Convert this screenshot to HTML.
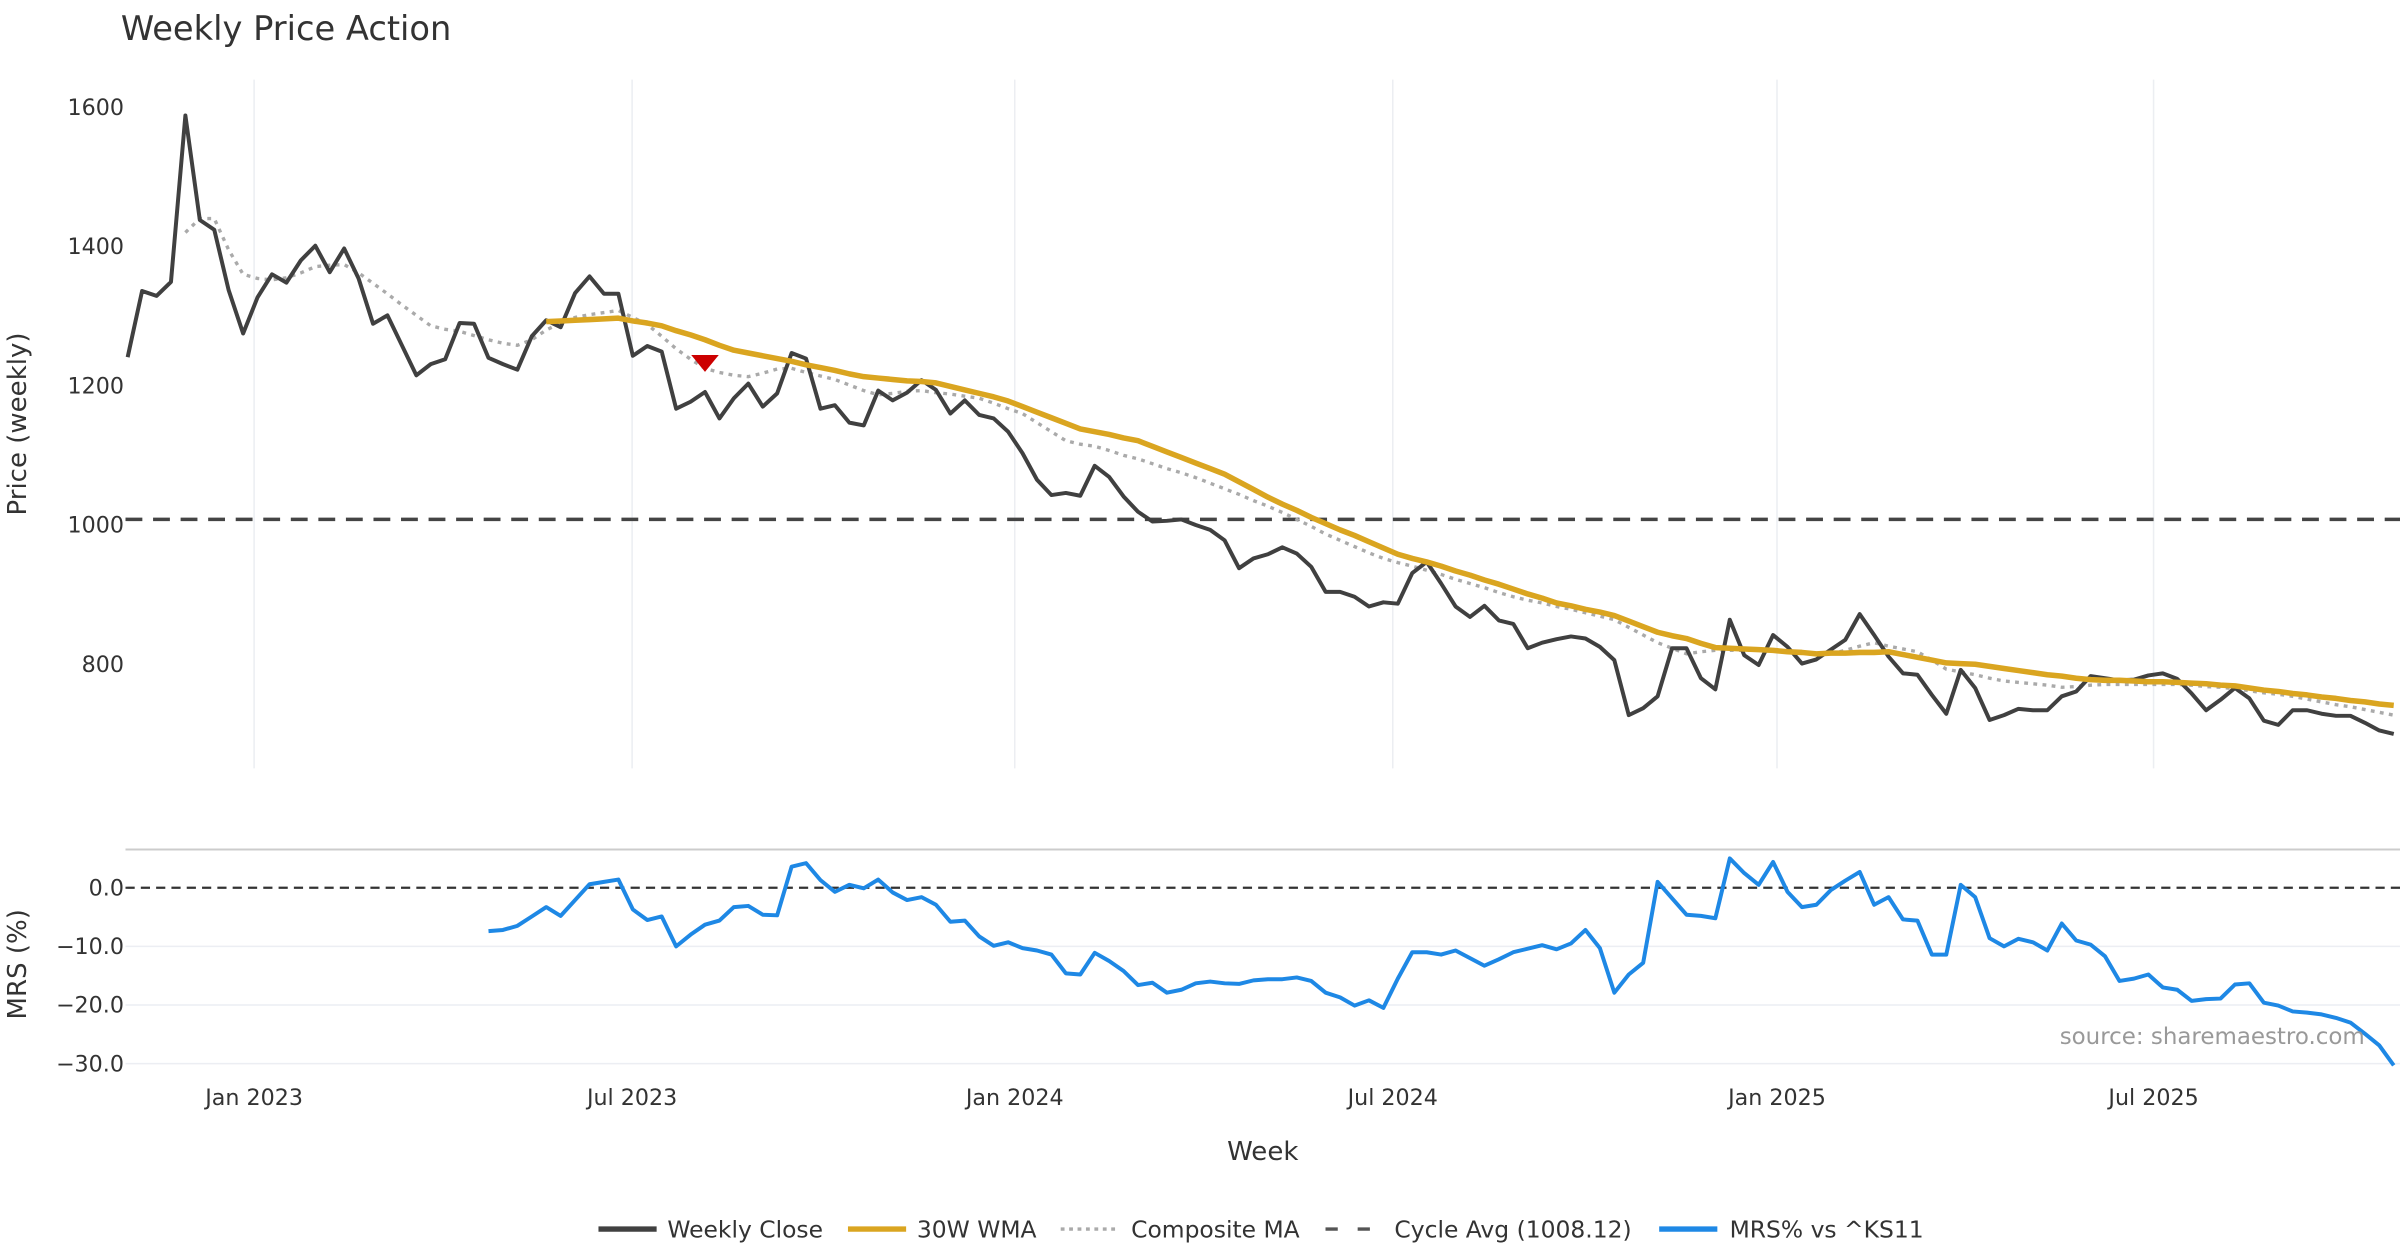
<!DOCTYPE html>
<html><head><meta charset="utf-8"><title>Weekly Price Action</title>
<style>
html,body{margin:0;padding:0;background:#fff;}
svg{display:block;font-family:"DejaVu Sans","Liberation Sans",sans-serif;}
</style></head>
<body>
<svg id="chart" width="2400" height="1260" viewBox="0 0 1568 823.2" xmlns="http://www.w3.org/2000/svg">
  <rect x="0" y="0" width="1568" height="823.2" fill="#fff"/>
  <text x="79" y="26" font-size="22" fill="#333">Weekly Price Action</text>
  <g id="grid"></g>
  <g id="series"></g>
  <g id="axes"></g>
  <text transform="translate(17,277) rotate(-90)" text-anchor="middle" font-size="17" fill="#333">Price (weekly)</text>
  <text transform="translate(17,630) rotate(-90)" text-anchor="middle" font-size="17" fill="#333">MRS (%)</text>
  <text x="825" y="758" text-anchor="middle" font-size="17" fill="#333">Week</text>
  <text x="1545" y="682" text-anchor="end" font-size="15" fill="#999">source: sharemaestro.com</text>
  <g>
    <g>
      <line x1="391" y1="803" x2="429" y2="803" stroke="#404040" stroke-width="3.5"/>
      <text x="436" y="808.5" font-size="15.3" fill="#333">Weekly Close</text>
    </g>
    <g>
      <line x1="554" y1="803" x2="592" y2="803" stroke="#DAA520" stroke-width="3.5"/>
      <text x="599" y="808.5" font-size="15.3" fill="#333">30W WMA</text>
    </g>
    <g>
      <line x1="693" y1="803" x2="731" y2="803" stroke="#aaa" stroke-width="2.2" stroke-dasharray="2.5,3"/>
      <text x="739" y="808.5" font-size="15.3" fill="#333">Composite MA</text>
    </g>
    <g>
      <line x1="866" y1="803" x2="904" y2="803" stroke="#555" stroke-width="2.2" stroke-dasharray="8,13"/>
      <text x="911" y="808.5" font-size="15.3" fill="#333">Cycle Avg (1008.12)</text>
    </g>
    <g>
      <line x1="1084" y1="803" x2="1122" y2="803" stroke="#1E88E5" stroke-width="3.5"/>
      <text x="1130" y="808.5" font-size="15.3" fill="#333">MRS% vs ^KS11</text>
    </g>
  </g>
</svg>
<script>
const closeVals = [1241,1336,1329,1349,1588,1438,1424,1337,1275,1327,1360,1348,1380,1401,1363,1397,1354,1289,1301,1258,1215,1231,1238,1290,1289,1240,1231,1223,1271,1294,1284,1333,1357,1332,1332,1243,1257,1249,1167,1177,1191,1153,1182,1203,1170,1189,1247,1239,1167,1172,1147,1143,1193,1179,1190,1208,1194,1160,1179,1158,1153,1134,1103,1065,1043,1046,1042,1085,1069,1041,1019,1005,1006,1008,1000,993,978,938,952,958,968,959,940,904,904,897,883,889,887,931,947,916,883,868,884,863,858,823,831,836,840,837,825,806,727,737,754,823,823,780,764,864,813,799,842,825,801,807,821,835,872,842,811,787,785,756,729,792,766,720,727,736,734,734,754,761,783,780,777,778,784,787,779,758,734,749,766,751,719,713,734,734,729,726,726,716,705,700];
const wmaStart = 29;
const wmaVals = [1292,1293,1294,1295,1296,1297,1293,1290,1286,1279,1273,1266,1258,1251,1247,1243,1239,1235,1230,1226,1222,1217,1213,1211,1209,1207,1206,1204,1199,1194,1189,1184,1178,1170,1162,1154,1146,1138,1134,1130,1125,1121,1113,1105,1097,1089,1081,1073,1062,1051,1040,1030,1021,1011,1002,993,985,976,967,958,952,947,941,934,928,921,915,908,901,895,888,884,879,875,870,862,854,846,841,837,830,824,823,822,821,820,818,817,815,816,816,817,817,818,814,810,806,802,801,800,797,794,791,788,785,783,780,778,777,777,776,775,775,774,773,772,770,769,766,763,761,758,756,753,751,748,746,743,741];
const compStart = 4;
const compVals = [1420,1440,1440,1395,1360,1354,1352,1355,1362,1371,1373,1374,1362,1347,1332,1316,1301,1286,1281,1278,1272,1266,1261,1258,1266,1280,1290,1298,1302,1305,1308,1298,1288,1271,1253,1238,1225,1219,1215,1213,1218,1224,1225,1219,1214,1209,1201,1193,1187,1189,1192,1193,1190,1188,1185,1182,1175,1167,1160,1147,1134,1121,1116,1113,1107,1100,1095,1088,1081,1075,1068,1060,1052,1044,1035,1027,1018,1008,998,987,978,969,960,952,946,941,935,929,922,916,910,903,897,892,888,883,879,874,869,864,853,842,831,823,815,818,820,820,820,820,820,819,818,816,815,820,826,831,826,822,818,806,793,789,785,780,776,774,772,770,767,768,770,771,771,771,771,771,771,770,768,767,765,762,759,757,754,750,746,742,739,735,731,727];
const mrsStart = 25;
const mrsVals = [-7.4,-7.2,-6.5,-4.9,-3.3,-4.8,-2.1,0.6,1.0,1.4,-3.7,-5.5,-4.9,-10.0,-8.0,-6.3,-5.6,-3.3,-3.1,-4.6,-4.7,3.6,4.2,1.3,-0.7,0.5,-0.1,1.4,-0.8,-2.1,-1.6,-2.9,-5.8,-5.6,-8.3,-9.9,-9.3,-10.3,-10.7,-11.4,-14.6,-14.8,-11.1,-12.5,-14.2,-16.6,-16.2,-17.9,-17.4,-16.3,-16.0,-16.3,-16.4,-15.8,-15.6,-15.6,-15.3,-15.9,-17.9,-18.7,-20.1,-19.2,-20.5,-15.5,-11.0,-11.0,-11.4,-10.7,-12.0,-13.3,-12.2,-11.0,-10.4,-9.8,-10.5,-9.5,-7.2,-10.3,-17.9,-14.8,-12.8,1.0,-1.8,-4.6,-4.8,-5.2,5.0,2.5,0.5,4.4,-0.7,-3.3,-2.9,-0.4,1.2,2.7,-2.9,-1.6,-5.4,-5.6,-11.4,-11.4,0.5,-1.6,-8.6,-10.0,-8.7,-9.3,-10.7,-6.1,-9.0,-9.7,-11.7,-15.9,-15.5,-14.8,-17.0,-17.4,-19.3,-19.0,-18.9,-16.5,-16.3,-19.6,-20.1,-21.1,-21.3,-21.6,-22.2,-23.0,-24.9,-26.9,-30.3];
const cycleAvg = 1008.12;
const signalIndex = 40;
const signalPrice = 1232;
const priceTicks = [800,1000,1200,1400,1600];
const mrsTicks = [0,-10,-20,-30];
const xTickLabels = ["Jan 2023","Jul 2023","Jan 2024","Jul 2024","Jan 2025","Jul 2025"];
const xTickWeeks = [8.76,34.95,61.46,87.65,114.27,140.36];

const NS = "http://www.w3.org/2000/svg";
const X0 = 83.4, XSTEP = 9.43;
function xs(i){ return X0 + i*XSTEP; }
function yp(p){ return 343 - (p-1000)*0.455; }
function ym(v){ return 580 - v*3.83; }
function mk(tag, attrs, parent){ const e=document.createElementNS(NS,tag); for(const k in attrs) e.setAttribute(k,attrs[k]); parent.appendChild(e); return e; }
const grid=document.getElementById('grid'), ser=document.getElementById('series'), axes=document.getElementById('axes');

xTickWeeks.forEach((w,k)=>{
  const gl = mk('line',{x1:xs(w),x2:xs(w),y1:52,y2:502,stroke:'#eceef2','stroke-width':1},grid);
  
  
  const t = mk('text',{x:xs(w),y:722,'text-anchor':'middle','font-size':14.5,fill:'#333'},axes);
  t.textContent = xTickLabels[k];
  
  
});
priceTicks.forEach(p=>{
  const t = mk('text',{x:81,y:yp(p)+5,'text-anchor':'end','font-size':14.5,fill:'#333'},axes);
  t.textContent = String(p);
  
  
});
const sep = mk('line',{x1:82,x2:1568,y1:555,y2:555,stroke:'#ccc','stroke-width':1.3},grid);


mrsTicks.forEach(v=>{
  if(v!==0){
    const gl = mk('line',{x1:82,x2:1568,y1:ym(v),y2:ym(v),stroke:'#eceef3','stroke-width':1},grid);
    
    
  }
  const t = mk('text',{x:81,y:ym(v)+5,'text-anchor':'end','font-size':14.5,fill:'#333'},axes);
  t.textContent = (v<0?'\u2212':'') + Math.abs(v).toFixed(1);
  
  
});
const zl = mk('line',{x1:82,x2:1568,y1:ym(0),y2:ym(0),stroke:'#333','stroke-width':1.4,'stroke-dasharray':'6,4'},grid);



const ca = mk('line',{x1:82,x2:1568,y1:yp(cycleAvg),y2:yp(cycleAvg),stroke:'#444','stroke-width':2.3,'stroke-dasharray':'11,7'},ser);



function poly(vals,start,yf,attrs,name){
  const pts = vals.map((v,k)=>xs(start+k).toFixed(2)+','+yf(v).toFixed(2)).join(' ');
  const p = mk('polyline',Object.assign({points:pts,fill:'none','stroke-linejoin':'round'},attrs),ser);
  
  
  return p;
}
poly(compVals,compStart,yp,{stroke:'#aaa','stroke-width':2.2,'stroke-dasharray':'2.5,3.5'},'composite-ma-line');
poly(closeVals,0,yp,{stroke:'#404040','stroke-width':2.6},'weekly-close-line');
poly(wmaVals,wmaStart,yp,{stroke:'#DAA520','stroke-width':3.6},'wma-30w-line');
poly(mrsVals,mrsStart,ym,{stroke:'#1E88E5','stroke-width':2.6},'mrs-line');

const sx = xs(signalIndex), sy = yp(signalPrice);
const tri = mk('polygon',{points:`${sx-9},${sy-5.5} ${sx+9},${sy-5.5} ${sx},${sy+5.5}`,fill:'#CC0000'},ser);


</script>
</body></html>
